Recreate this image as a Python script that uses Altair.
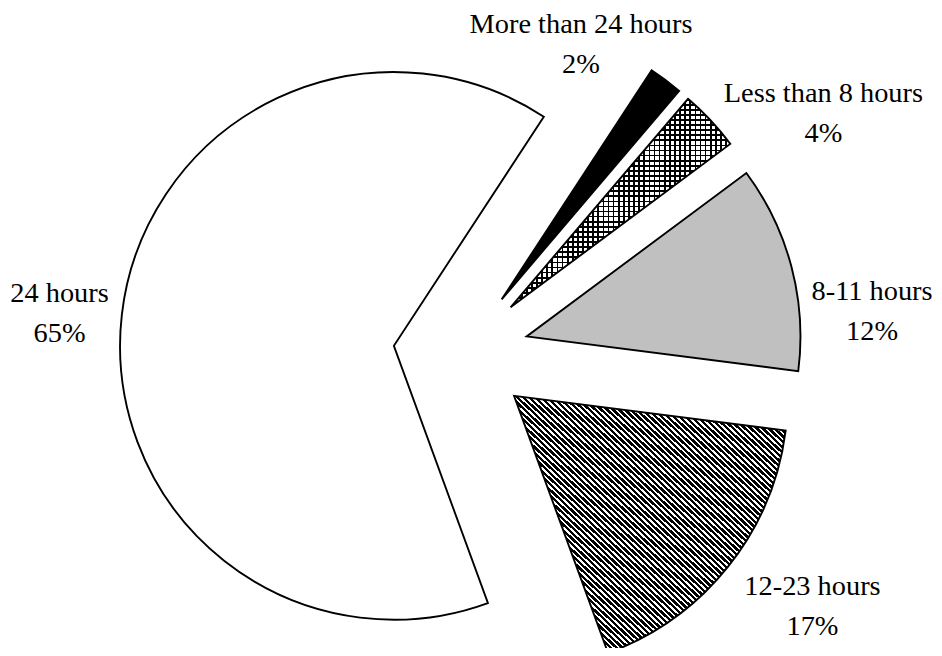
import altair as alt
import pandas as pd

# ---------------- data ----------------
CATEGORIES = ["Less than 8 hours", "8-11 hours", "12-23 hours", "24 hours", "More than 24 hours"]
SHARES = [3.6, 12.2, 17.4, 64.8, 2.0]   # percent of the pie (labels show them rounded)

# ---------------- style / layout ----------------
FILLS = ["white", "#c0c0c0", "white", "white", "black"]
W, H = 930, 640
CX, CY = 455.1, 345.7          # pie centre (px)
RADIUS = 275
EXPLODE = 68                   # every slice is pulled out by this many px
ROT_DEG = 40.4                 # angle where the first slice starts (clockwise from 12 o'clock)
LABEL_DIST = 340               # label anchor distance beyond each slice's tip
LABEL_NUDGE = {                # fine placement of each data label (px)
    "Less than 8 hours": (66, 26),
    "8-11 hours": (18, 50),
    "12-23 hours": (34, -12),
    "24 hours": (2, -5),
    "More than 24 hours": (-124, 5),
}
FONT = "Liberation Serif"
FONT_SIZE = 28.5
LINE_H = 40


def stripes(n, frac, ink, gap, x1, y1, x2, y2):
    stops = []
    for i in range(n):
        a, b, c = i / n, (i + frac) / n, (i + 1) / n
        stops += [
            alt.GradientStop(offset=a, color=ink),
            alt.GradientStop(offset=b, color=ink),
            alt.GradientStop(offset=b, color=gap),
            alt.GradientStop(offset=c, color=gap),
        ]
    return alt.LinearGradient(gradient="linear", stops=stops, x1=x1, y1=y1, x2=x2, y2=y2)


DIAG_HATCH = stripes(92, 0.58, "black", "white", 0, 1, 1, 0)
GRID_H = stripes(41, 0.34, "black", "rgba(0,0,0,0)", 0, 0, 0, 1)
GRID_V = stripes(43, 0.34, "black", "rgba(0,0,0,0)", 0, 0, 1, 0)

df = pd.DataFrame({
    "cat": CATEGORIES,
    "share": SHARES,
    "order": list(range(len(CATEGORIES))),
    "ndx": [LABEL_NUDGE[c][0] for c in CATEGORIES],
    "ndy": [LABEL_NUDGE[c][1] for c in CATEGORIES],
})

base = (
    alt.Chart(df)
    .transform_joinaggregate(total="sum(share)")
    .transform_window(cum="sum(share)", sort=[alt.SortField("order")], frame=[None, 0])
    .transform_calculate(
        a0=f"{ROT_DEG}*PI/180 + 2*PI*(datum.cum - datum.share)/datum.total",
        a1=f"{ROT_DEG}*PI/180 + 2*PI*datum.cum/datum.total",
    )
    .transform_calculate(mid="(datum.a0 + datum.a1)/2")
    .transform_calculate(
        px=f"{CX} + {EXPLODE}*sin(datum.mid)",
        py=f"{CY} - {EXPLODE}*cos(datum.mid)",
    )
    .transform_calculate(
        lx=f"datum.px + {LABEL_DIST}*sin(datum.mid) + datum.ndx",
        ly=f"datum.py - {LABEL_DIST}*cos(datum.mid) + datum.ndy",
        label="datum.cat + '|' + format(datum.share, '.0f') + '%'",
    )
)

arc_enc = dict(
    x=alt.X("px:Q", scale=None, axis=None),
    y=alt.Y("py:Q", scale=None, axis=None),
    theta=alt.Theta("a0:Q", scale=None, stack=None),
    theta2=alt.Theta2("a1:Q"),
)

fills = base.mark_arc(radius=RADIUS, strokeWidth=0).encode(
    color=alt.Color("cat:N", scale=alt.Scale(domain=CATEGORIES, range=FILLS), legend=None),
    **arc_enc,
)

hatch = (
    base.transform_filter(alt.datum.cat == CATEGORIES[2])
    .mark_arc(radius=RADIUS, fill=DIAG_HATCH, strokeWidth=0)
    .encode(**arc_enc)
)
grid_h = (
    base.transform_filter(alt.datum.cat == CATEGORIES[0])
    .mark_arc(radius=RADIUS, fill=GRID_H, strokeWidth=0)
    .encode(**arc_enc)
)
grid_v = (
    base.transform_filter(alt.datum.cat == CATEGORIES[0])
    .mark_arc(radius=RADIUS, fill=GRID_V, strokeWidth=0)
    .encode(**arc_enc)
)

outline = base.mark_arc(
    radius=RADIUS, fill="white", fillOpacity=0, stroke="black", strokeWidth=1.9
).encode(**arc_enc)

labels = base.mark_text(
    font=FONT, fontSize=FONT_SIZE, color="black", align="center",
    baseline="alphabetic", lineBreak="|", lineHeight=LINE_H,
).encode(
    x=alt.X("lx:Q", scale=None, axis=None),
    y=alt.Y("ly:Q", scale=None, axis=None),
    text="label:N",
)

chart = (
    alt.layer(fills, hatch, grid_h, grid_v, outline, labels)
    .properties(width=W, height=H, padding=0, autosize="none", background="white")
    .configure_view(stroke=None)
)

chart.save("out.html", embed_options={"renderer": "svg", "actions": False})
